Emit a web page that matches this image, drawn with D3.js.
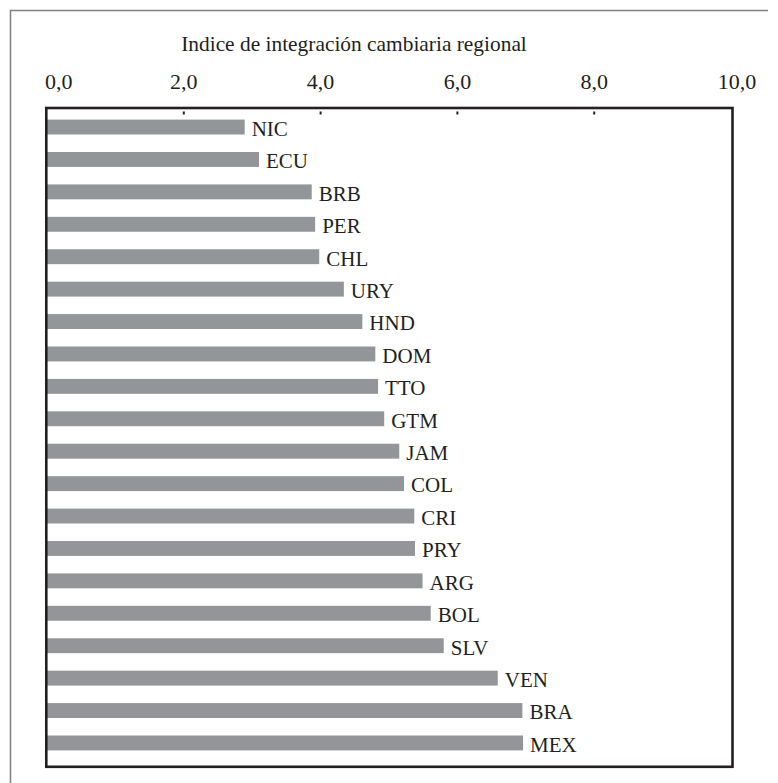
<!DOCTYPE html>
<html>
<head>
<meta charset="utf-8">
<script src="https://cdn.jsdelivr.net/npm/d3@7"></script>
<style>
body { margin: 0; background: #fff; }
text { font-family: "Liberation Serif", "Times New Roman", serif; fill: #231f20; }
</style>
</head>
<body>
<div id="chart"></div>
<script>
var countries = ["NIC", "ECU", "BRB", "PER", "CHL", "URY", "HND", "DOM", "TTO", "GTM",
  "JAM", "COL", "CRI", "PRY", "ARG", "BOL", "SLV", "VEN", "BRA", "MEX"];
var values = [2.89, 3.10, 3.87, 3.92, 3.98, 4.34, 4.61, 4.80, 4.84, 4.93,
  5.15, 5.22, 5.37, 5.38, 5.49, 5.61, 5.80, 6.59, 6.95, 6.96];
var tickValues = [0, 2, 4, 6, 8, 10];
var tickLabels = ["0,0", "2,0", "4,0", "6,0", "8,0", "10,0"];
var title = "Indice de integración cambiaria regional";

var data = countries.map(function(c, i) { return {name: c, value: values[i]}; });

var width = 778, height = 783;

var svg = d3.select("#chart")
  .append("svg")
  .attr("width", width)
  .attr("height", height);

// outer frame (only top and left visible)
svg.append("path")
  .attr("d", "M10.5,783 L10.5,10.5 L768,10.5")
  .attr("fill", "none")
  .attr("stroke", "#808080")
  .attr("stroke-width", 1.5);

var x = d3.scaleLinear()
  .domain([0, 10])
  .range([47, 731]);

var y = d3.scaleBand()
  .domain(countries)
  .range([105, 765])
  .paddingInner(0.54)
  .paddingOuter(0.45);

// title
svg.append("text")
  .attr("x", 354)
  .attr("y", 51)
  .attr("text-anchor", "middle")
  .attr("font-size", "21.4px")
  .text(title);

// tick labels above the box
svg.selectAll(".tlabel")
  .data(tickValues)
  .enter()
  .append("text")
  .attr("class", "tlabel")
  .attr("x", function(d, i) {
    if (i === 0) return x(d) - 2;
    if (i === tickValues.length - 1) return x(d) + 6;
    return x(d);
  })
  .attr("y", 89)
  .attr("text-anchor", function(d, i) { return i === 0 ? "start" : "middle"; })
  .attr("font-size", "22px")
  .text(function(d, i) { return tickLabels[i]; });

// little tick marks inside the top border
svg.selectAll(".tick")
  .data(tickValues.slice(1, -1))
  .enter()
  .append("line")
  .attr("class", "tick")
  .attr("x1", function(d) { return x(d); })
  .attr("x2", function(d) { return x(d); })
  .attr("y1", 111.5)
  .attr("y2", 114.5)
  .attr("stroke", "#231f20")
  .attr("stroke-width", 2);

// bars
svg.selectAll(".bar")
  .data(data)
  .enter()
  .append("rect")
  .attr("class", "bar")
  .attr("x", x(0) - 1)
  .attr("y", function(d) { return y(d.name); })
  .attr("width", function(d) { return x(d.value) - x(0) + 1; })
  .attr("height", y.bandwidth())
  .attr("fill", "#939598");

// country labels
svg.selectAll(".label")
  .data(data)
  .enter()
  .append("text")
  .attr("class", "label")
  .attr("x", function(d) { return x(d.value) + 7; })
  .attr("y", function(d) { return y(d.name) + y.bandwidth() / 2; })
  .attr("dy", "0.42em")
  .attr("font-size", "21px")
  .text(function(d) { return d.name; });

// plot box
svg.append("rect")
  .attr("x", 46.3)
  .attr("y", 108)
  .attr("width", 732.5 - 46.3)
  .attr("height", 766.8 - 108)
  .attr("fill", "none")
  .attr("stroke", "#231f20")
  .attr("stroke-width", 2.6);
</script>
</body>
</html>
